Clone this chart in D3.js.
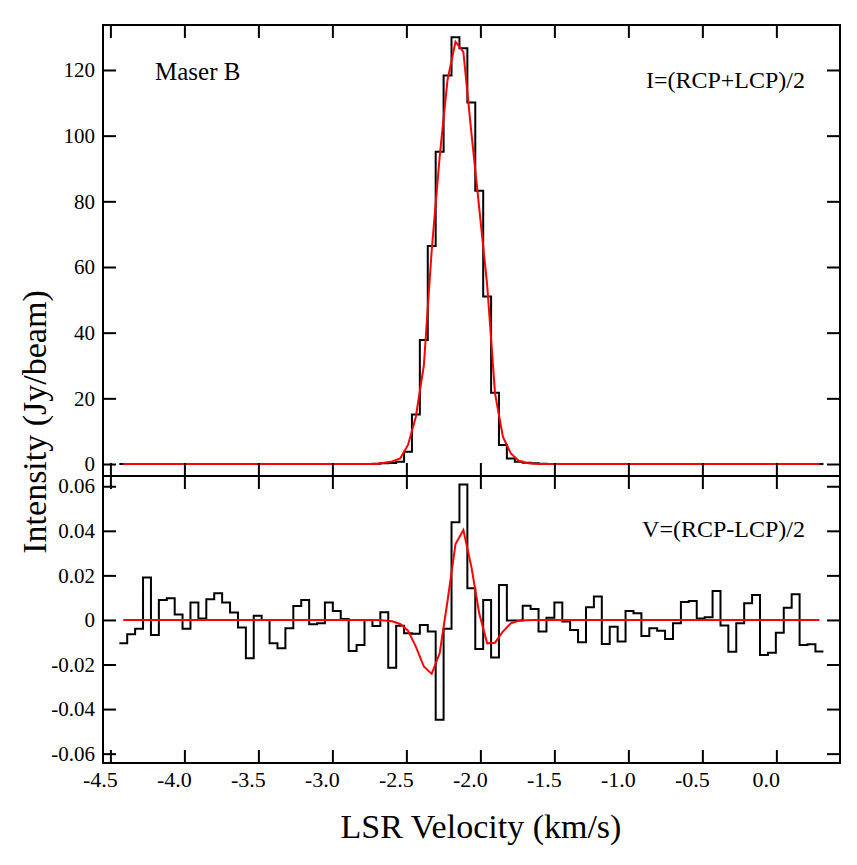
<!DOCTYPE html>
<html><head><meta charset="utf-8">
<script src="https://cdn.jsdelivr.net/npm/d3@7"></script>
<style>body{margin:0;background:#fff}svg{display:block}</style>
</head><body><svg id="c" width="857" height="865"></svg>
<script>
// channel velocities (km/s)
const velocity = [-4.413,-4.360,-4.306,-4.253,-4.199,-4.146,-4.092,-4.039,-3.986,-3.932,-3.879,-3.825,-3.772,-3.718,-3.665,-3.611,-3.558,-3.505,-3.451,-3.398,-3.344,-3.291,-3.237,-3.184,-3.130,-3.077,-3.024,-2.970,-2.917,-2.863,-2.810,-2.756,-2.703,-2.649,-2.596,-2.542,-2.489,-2.436,-2.382,-2.329,-2.275,-2.222,-2.168,-2.115,-2.061,-2.008,-1.954,-1.901,-1.848,-1.794,-1.741,-1.687,-1.634,-1.580,-1.527,-1.473,-1.420,-1.367,-1.313,-1.260,-1.206,-1.153,-1.099,-1.046,-0.992,-0.939,-0.885,-0.832,-0.779,-0.725,-0.672,-0.618,-0.565,-0.511,-0.458,-0.404,-0.351,-0.298,-0.244,-0.191,-0.137,-0.084,-0.030,0.023,0.077,0.130,0.184,0.237,0.291];
// Stokes I (Jy/beam)
const stokesI = [0,0,0,0,0,0,0,0,0,0,0,0,0,0,0,0,0,0,0,0,0,0,0,0,0,0,0,0,0,0,0,0,0.1,0.2,0.3,0.7,3.7,15.1,37.8,66.4,95.1,118.3,130.0,126.6,110.1,83.2,51.0,21.7,5.8,1.7,0.7,0.4,0.2,0.1,0,0,0,0,0,0,0,0,0,0,0,0,0,0,0,0,0,0,0,0,0,0,0,0,0,0,0,0,0,0,0,0,0,0,0];
const modelI = [0,0,0,0,0,0,0,0,0,0,0,0,0,0,0,0,0,0,0,0,0,0,0,0,0,0,0,0,0,0,0,0,0,0.4,0.8,1.7,5.8,14.4,30.0,65.0,93.6,117.0,128.6,125.5,101.0,78.0,54.5,21.5,8.3,3.2,1.0,0.3,0.1,0,0,0,0,0,0,0,0,0,0,0,0,0,0,0,0,0,0,0,0,0,0,0,0,0,0,0,0,0,0,0,0,0,0,0,0];
// Stokes V (Jy/beam)
const stokesV = [-0.0105,-0.0064,-0.0040,0.0190,-0.0067,0.0090,0.0097,0.0025,-0.0040,0.0078,0.0007,0.0093,0.0120,0.0078,0.0033,-0.0034,-0.0172,0.0019,0.0000,-0.0105,-0.0127,-0.0037,0.0063,0.0090,-0.0019,-0.0015,0.0078,0.0040,0.0004,-0.0139,-0.0112,0.0000,-0.0027,0.0034,-0.0215,-0.0026,-0.0060,-0.0062,-0.0023,-0.0052,-0.0448,-0.0040,0.0438,0.0608,0.0142,-0.0130,0.0090,-0.0169,0.0157,-0.0003,-0.0003,0.0064,0.0049,-0.0052,0.0010,0.0078,-0.0007,-0.0045,-0.0100,0.0057,0.0105,-0.0108,-0.0030,-0.0097,0.0040,0.0030,-0.0072,-0.0037,-0.0048,-0.0085,-0.0015,0.0080,0.0085,0.0007,0.0012,0.0130,-0.0025,-0.0143,-0.0015,0.0075,0.0112,-0.0157,-0.0147,-0.0057,0.0055,0.0115,-0.0112,-0.0109,-0.0142];
const modelV = [0,0,0,0,0,0,0,0,0,0,0,0,0,0,0,0,0,0,0,0,0,0,0,0,0,0,0,0,0,0,0,0,0,-0.0002,-0.0006,-0.0018,-0.0048,-0.0120,-0.0209,-0.0242,-0.0149,0.0085,0.0341,0.0404,0.0239,0.0030,-0.0105,-0.0102,-0.0052,-0.0015,-0.0004,-0.0001,0,0,0,0,0,0,0,0,0,0,0,0,0,0,0,0,0,0,0,0,0,0,0,0,0,0,0,0,0,0,0,0,0,0,0,0,0];
const xTicks = [-4.5,-4.0,-3.5,-3.0,-2.5,-2.0,-1.5,-1.0,-0.5,0.0];
const yTicksI = [0,20,40,60,80,100,120];
const yTicksV = [-0.06,-0.04,-0.02,0,0.02,0.04,0.06];
const yLabelsV = ["-0.06","-0.04","-0.02","0","0.02","0.04","0.06"];

const FONT = "'Liberation Serif','Times New Roman',Times,serif";
const svg = d3.select("#c");
const L = 103, R = 840, T = 25, M = 476, B = 763;
const x = d3.scaleLinear().domain([-4.55, 0.43]).range([L, R]);
const yI = d3.scaleLinear().domain([-3.65, 133.7]).range([M, T]);
const yV = d3.scaleLinear().domain([-0.0642, 0.0646]).range([B, M]);

// histogram edges from channel centres
const edges = velocity.map((v, i) => {
  const lo = i > 0 ? (v + velocity[i-1]) / 2 : v - (velocity[1] - velocity[0]) / 2;
  const hi = i < velocity.length - 1 ? (v + velocity[i+1]) / 2 : v + (velocity[i] - velocity[i-1]) / 2;
  return [lo, hi];
});
function histPts(vals) {
  const p = [];
  vals.forEach((d, i) => { p.push([edges[i][0], d]); p.push([edges[i][1], d]); });
  return p;
}

function panel(y, top, bottom, obs, mod, ticks, labels) {
  const g = svg.append("g");
  g.append("path").datum(histPts(obs))
    .attr("d", d3.line().x(d => x(d[0])).y(d => y(d[1])))
    .attr("fill", "none").attr("stroke", "#000").attr("stroke-width", 2);
  g.append("path").datum(velocity.map((v, i) => [v, mod[i]]))
    .attr("d", d3.line().x(d => x(d[0])).y(d => y(d[1])))
    .attr("fill", "none").attr("stroke", "#ff0000").attr("stroke-width", 2);
  const tl = 13;
  const ax = d3.axisLeft(y).tickValues(ticks).tickSize(-tl).tickPadding(8)
    .tickFormat((d, i) => labels[i]);
  const gl = g.append("g").attr("transform", `translate(${L},0)`).call(ax);
  gl.select(".domain").remove();
  gl.selectAll("line").attr("stroke", "#000").attr("stroke-width", 2);
  gl.selectAll("text").style("font-size", "21px").style("font-family", FONT).attr("fill", "#000");
  const gr = g.append("g").attr("transform", `translate(${R},0)`)
    .call(d3.axisRight(y).tickValues(ticks).tickSize(-tl).tickFormat(""));
  gr.select(".domain").remove();
  gr.selectAll("line").attr("stroke", "#000").attr("stroke-width", 2);
  const gt = g.append("g").attr("transform", `translate(0,${top})`)
    .call(d3.axisTop(x).tickValues(xTicks).tickSize(-tl).tickFormat(""));
  gt.select(".domain").remove();
  gt.selectAll("line").attr("stroke", "#000").attr("stroke-width", 2);
  const gb = g.append("g").attr("transform", `translate(0,${bottom})`)
    .call(d3.axisBottom(x).tickValues(xTicks).tickSize(-tl).tickFormat(""));
  gb.select(".domain").remove();
  gb.selectAll("line").attr("stroke", "#000").attr("stroke-width", 2);
  return g;
}

panel(yI, T, M, stokesI, modelI, yTicksI, yTicksI.map(String));
panel(yV, M, B, stokesV, modelV, yTicksV, yLabelsV);

// frame
svg.append("rect").attr("x", L).attr("y", T).attr("width", R - L).attr("height", B - T)
  .attr("fill", "none").attr("stroke", "#000").attr("stroke-width", 2);
svg.append("line").attr("x1", L).attr("x2", R).attr("y1", M).attr("y2", M)
  .attr("stroke", "#000").attr("stroke-width", 2);

function txt(sel) { return sel.style("font-family", FONT).attr("fill", "#000"); }

// x tick labels
txt(svg.append("g").selectAll("text").data(xTicks).join("text")
  .attr("x", d => x(d) - 10).attr("y", 787).attr("text-anchor", "middle")
  .style("font-size", "22px").text(d => d.toFixed(1)));

txt(svg.append("text").attr("x", 155).attr("y", 80).style("font-size", "25px").text("Maser B"));
txt(svg.append("text").attr("x", 805).attr("y", 88).attr("text-anchor", "end").style("font-size", "24px").text("I=(RCP+LCP)/2"));
txt(svg.append("text").attr("x", 805).attr("y", 537).attr("text-anchor", "end").style("font-size", "24px").text("V=(RCP-LCP)/2"));
txt(svg.append("text").attr("transform", "translate(46,422) rotate(-90)").attr("text-anchor", "middle")
  .style("font-size", "34px").text("Intensity (Jy/beam)"));
txt(svg.append("text").attr("x", 481).attr("y", 838).attr("text-anchor", "middle")
  .style("font-size", "34px").text("LSR Velocity (km/s)"));
</script></body></html>
